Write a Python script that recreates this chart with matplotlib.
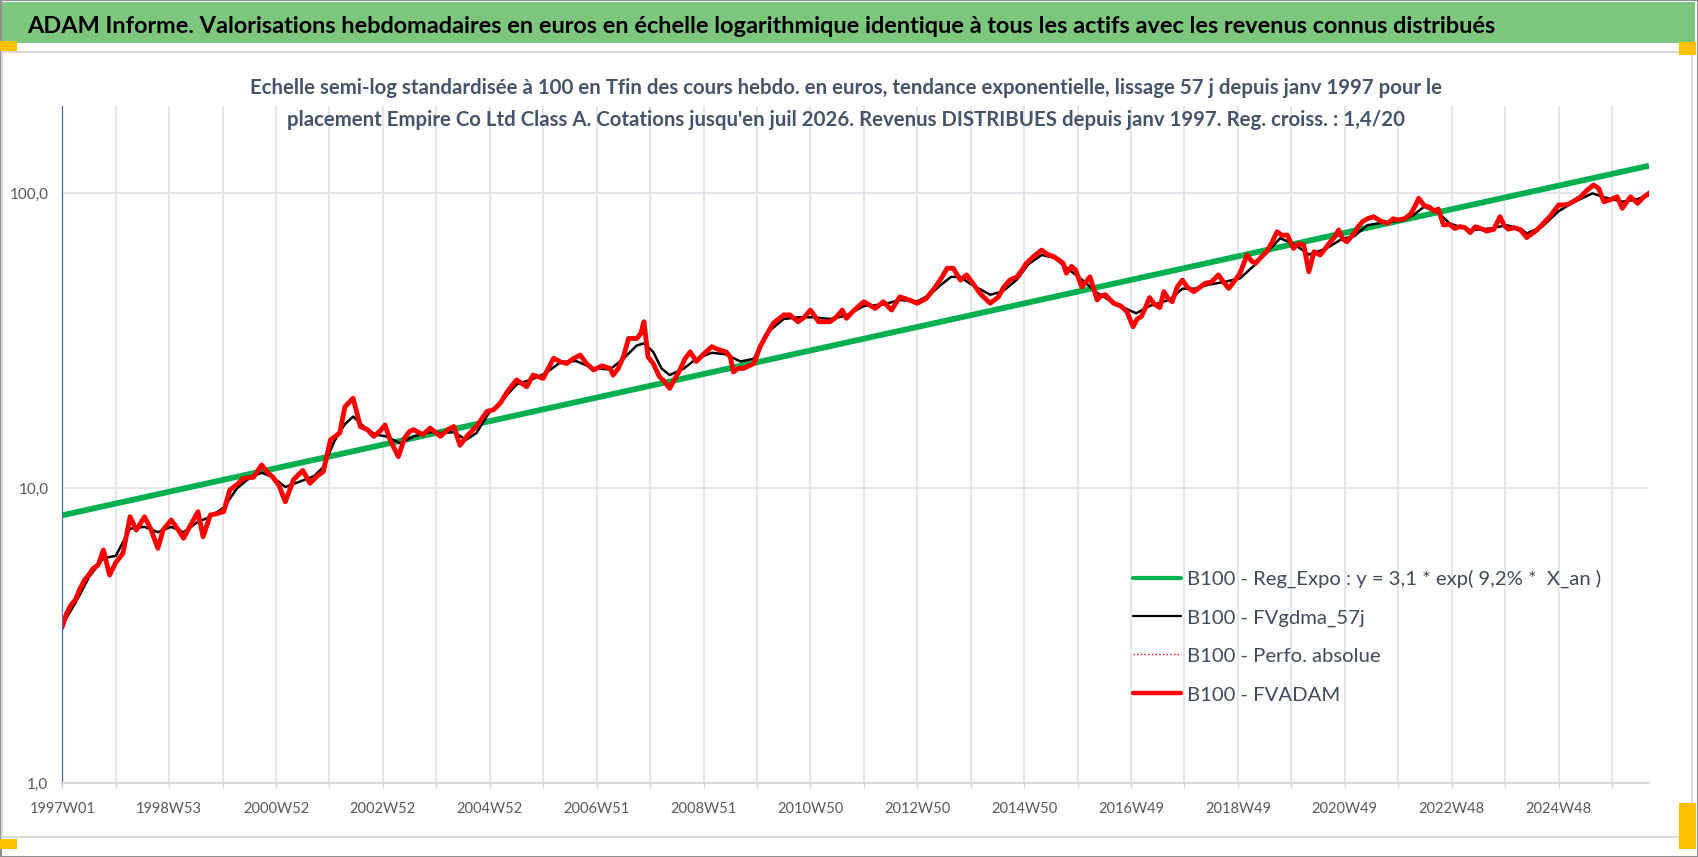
import matplotlib
matplotlib.use("Agg")
import matplotlib.pyplot as plt
from matplotlib.lines import Line2D
from matplotlib.patches import Rectangle
from matplotlib.ticker import FixedLocator, NullLocator

# ---------------- data ----------------
title = ("ADAM Informe. Valorisations hebdomadaires en euros en échelle logarithmique "
         "identique à tous les actifs avec les revenus connus distribués")
subtitle_1 = ("Echelle semi-log standardisée à 100 en Tfin des cours hebdo. en euros, tendance "
              "exponentielle, lissage 57 j depuis janv 1997 pour le")
subtitle_2 = ("placement Empire Co Ltd Class A. Cotations jusqu'en juil 2026. Revenus DISTRIBUES "
              "depuis janv 1997. Reg. croiss. : 1,4/20")

tick_labels = ["1997W01", "1998W53", "2000W52", "2002W52", "2004W52", "2006W51", "2008W51",
               "2010W50", "2012W50", "2014W50", "2016W49", "2018W49", "2020W49", "2022W48",
               "2024W48"]
tick_weeks = [0, 104, 208, 312, 416, 520, 624, 728, 832, 936, 1040, 1144, 1248, 1352, 1456]
grid_weeks = [0, 52, 104, 156, 208, 260, 312, 364, 416, 468, 520, 572, 624, 676, 728, 780,
              832, 884, 936, 988, 1040, 1092, 1144, 1196, 1248, 1300, 1352, 1404, 1456, 1508]
last_week = 1544

y_ticks = [1, 10, 100]
y_tick_labels = ["1,0", "10,0", "100,0"]

legend_labels = ["B100 - Reg_Expo : y = 3,1 * exp( 9,2% *  X_an )",
                 "B100 - FVgdma_57j",
                 "B100 - Perfo. absolue",
                 "B100 - FVADAM"]

reg_week = [0, 1544]
reg_value = [8.1, 124.0]

red_week = [0, 4, 8, 13, 17, 22, 26, 30, 35, 40, 46, 52, 59, 66, 72, 80, 86, 93, 98, 106,
            112, 118, 124, 132, 137, 144, 150, 157, 163, 170, 176, 186, 194, 200, 205, 211,
            217, 225, 234, 241, 248, 254, 261, 270, 275, 283, 290, 297, 303, 309, 314, 319,
            327, 333, 338, 342, 351, 358, 368, 375, 381, 387, 395, 403, 413, 420, 426, 434,
            442, 452, 458, 468, 478, 485, 491, 497, 504, 510, 517, 525, 533, 536, 541, 546,
            551, 559, 563, 566, 570, 575, 581, 586, 591, 596, 601, 606, 611, 617, 624, 632,
            640, 646, 650, 653, 658, 663, 673, 679, 685, 692, 702, 708, 716, 722, 728, 736,
            747, 753, 759, 763, 770, 780, 791, 799, 807, 815, 824, 832, 841, 851, 856, 861,
            867, 874, 880, 887, 893, 898, 903, 911, 916, 922, 929, 934, 938, 945, 953, 959,
            965, 971, 974, 977, 982, 986, 992, 996, 1000, 1004, 1007, 1011, 1015, 1023, 1030,
            1036, 1042, 1046, 1050, 1054, 1058, 1063, 1068, 1072, 1076, 1080, 1085, 1090,
            1095, 1101, 1107, 1112, 1118, 1125, 1130, 1135, 1140, 1146, 1153, 1157, 1161,
            1166, 1172, 1177, 1182, 1187, 1192, 1198, 1203, 1208, 1213, 1218, 1224, 1229,
            1234, 1238, 1242, 1246, 1250, 1257, 1261, 1265, 1270, 1276, 1283, 1290, 1295,
            1300, 1306, 1312, 1316, 1320, 1325, 1331, 1335, 1339, 1344, 1350, 1355, 1360,
            1365, 1370, 1375, 1380, 1386, 1393, 1399, 1403, 1407, 1413, 1419, 1425, 1430,
            1435, 1441, 1448, 1456, 1461, 1466, 1470, 1477, 1484, 1490, 1495, 1500, 1506,
            1513, 1518, 1522, 1526, 1533, 1539, 1544]
red_value = [3.4, 3.75, 4.0, 4.2, 4.55, 4.9, 5.1, 5.35, 5.5, 6.18, 5.08, 5.6, 6.02, 8.01,
             7.22, 8.0, 7.3, 6.26, 7.22, 7.81, 7.3, 6.77, 7.41, 8.33, 6.85, 8.12, 8.2, 8.33,
             9.87, 10.3, 10.8, 10.9, 12.0, 11.3, 10.9, 10.2, 9.0, 10.7, 11.5, 10.4, 11.0,
             11.4, 14.6, 15.4, 18.9, 20.2, 16.2, 15.8, 15.0, 15.6, 16.4, 14.6, 12.8, 14.8,
             15.6, 15.8, 15.2, 16.0, 15.0, 15.8, 16.2, 14.0, 15.2, 16.2, 18.2, 18.5, 19.4,
             21.5, 23.3, 22.1, 24.2, 23.6, 27.6, 26.8, 26.5, 27.5, 28.3, 26.5, 25.2, 26.0,
             25.5, 24.2, 25.5, 27.9, 32.2, 32.2, 33.5, 36.7, 27.9, 26.5, 23.9, 23.0, 21.8,
             23.5, 25.2, 27.5, 29.0, 26.9, 28.5, 30.2, 29.4, 29.0, 27.9, 24.8, 25.5, 25.5,
             26.5, 30.2, 33.0, 36.3, 38.7, 38.7, 36.7, 38.0, 40.2, 36.7, 36.7, 38.0, 40.2,
             37.7, 40.0, 42.9, 40.7, 42.9, 40.2, 44.6, 43.5, 42.4, 44.1, 48.9, 52.0, 55.7,
             55.7, 50.8, 52.9, 49.0, 45.8, 44.0, 42.4, 44.6, 48.0, 50.8, 52.1, 55.0, 57.9,
             61.0, 64.2, 62.0, 61.0, 59.0, 57.9, 53.6, 56.5, 55.0, 48.2, 50.0, 52.1, 47.0,
             43.5, 45.0, 45.3, 42.4, 41.5, 39.7, 35.3, 37.5, 38.2, 41.0, 44.3, 42.0, 41.0,
             46.4, 44.0, 42.9, 48.2, 50.8, 48.0, 46.4, 48.0, 49.5, 50.0, 52.9, 50.0, 47.6,
             50.0, 53.6, 61.8, 59.0, 57.9, 60.5, 63.4, 68.0, 74.1, 72.0, 72.2, 65.1, 67.5,
             66.8, 54.2, 63.4, 61.8, 65.0, 68.5, 71.0, 75.1, 70.0, 68.5, 73.1, 77.0, 80.1,
             82.0, 83.3, 80.5, 79.1, 82.0, 81.2, 82.0, 85.0, 90.0, 96.2, 91.0, 89.5, 87.0,
             88.5, 78.1, 78.5, 76.0, 77.1, 76.5, 73.6, 77.0, 76.1, 74.5, 75.5, 83.3, 78.0,
             75.6, 76.5, 75.1, 70.8, 73.0, 75.1, 79.0, 83.8, 91.3, 91.3, 92.0, 93.7, 97.0,
             102.6, 106.7, 104.0, 93.7, 95.0, 97.3, 89.0, 93.0, 97.3, 92.5, 97.3, 100.0]

black_week = [0, 13, 26, 40, 52, 66, 80, 93, 106, 118, 132, 144, 157, 170, 183, 194, 205,
              217, 230, 245, 254, 265, 275, 283, 295, 305, 315, 329, 342, 358, 370, 381, 393,
              403, 415, 426, 442, 458, 470, 485, 500, 517, 533, 546, 559, 566, 575, 583, 591,
              605, 617, 632, 645, 660, 673, 685, 702, 716, 730, 747, 763, 780, 799, 815, 832,
              845, 855, 865, 874, 885, 903, 915, 929, 940, 953, 965, 977, 992, 1007, 1023,
              1036, 1045, 1058, 1077, 1090, 1102, 1115, 1130, 1146, 1160, 1172, 1185, 1198,
              1213, 1230, 1245, 1257, 1270, 1290, 1305, 1315, 1325, 1339, 1350, 1370, 1390,
              1405, 1419, 1425, 1440, 1456, 1470, 1489, 1500, 1518, 1530, 1544]
black_value = [3.45, 4.1, 5.0, 5.8, 5.9, 7.3, 7.4, 7.1, 7.4, 7.1, 7.7, 8.0, 8.6, 10.0,
               10.9, 11.3, 10.9, 10.1, 10.5, 11.0, 11.8, 14.5, 16.5, 17.5, 16.0, 15.2, 15.0,
               14.2, 15.0, 15.5, 15.4, 15.5, 14.6, 15.4, 18.0, 19.5, 22.5, 23.5, 24.5, 26.8,
               27.0, 25.5, 25.3, 27.5, 30.5, 31.0, 29.0, 25.5, 24.2, 25.5, 27.5, 28.8, 28.5,
               26.9, 27.5, 33.5, 37.5, 38.0, 38.0, 37.5, 38.5, 41.5, 42.0, 43.5, 43.0, 45.5,
               49.0, 52.1, 52.0, 49.0, 45.3, 46.5, 51.0, 57.5, 61.8, 60.5, 56.0, 51.0, 46.0,
               42.5, 40.5, 39.2, 41.5, 43.5, 47.5, 47.5, 49.0, 50.0, 51.5, 57.0, 63.0, 70.4,
               67.5, 62.0, 65.0, 70.0, 71.5, 78.0, 80.0, 81.0, 84.5, 90.0, 86.0, 79.0, 75.0,
               76.0, 78.0, 76.0, 73.1, 77.0, 87.0, 93.0, 100.0, 97.0, 93.7, 95.0, 98.5]

# ---------------- figure geometry (pixels) ----------------
W, H = 1698, 857
fig = plt.figure(figsize=(W / 100, H / 100), dpi=100)
fig.patch.set_facecolor("white")
plt.rcParams["font.family"] = ["Lato", "DejaVu Sans"]


def fx(x):
    return x / W


def fy(y):
    return 1 - y / H


def rect(x0, y0, x1, y1, **kw):
    fig.add_artist(Rectangle((fx(x0), fy(y1)), fx(x1) - fx(x0), fy(y0) - fy(y1),
                             transform=fig.transFigure, **kw))


# outer frame, title bar, chart box, selection handles
rect(0.5, 0.5, W - 0.5, H - 0.5, fill=False, edgecolor="#8f8f8f", lw=1.5)
rect(2, 2, 1695, 43, facecolor="#7dc67e", edgecolor="none")
rect(2, 52, 1692, 837, fill=False, edgecolor="#d9d9d9", lw=1.5)
handle_col = "#ffc000"
rect(0, 41, 17, 51, facecolor=handle_col, edgecolor="none")
rect(1679, 42, 1696, 55, facecolor=handle_col, edgecolor="none")
rect(0, 839, 17, 849, facecolor=handle_col, edgecolor="none")
rect(1679, 803, 1696, 849, facecolor=handle_col, edgecolor="none")

renderer = fig.canvas.get_renderer()


def fit(t, target):
    w = t.get_window_extent(renderer=renderer).width
    t.set_fontsize(t.get_fontsize() * target / w)
    return t.get_fontsize()


t_title = fig.text(fx(27), fy(32.7), title, ha="left", va="baseline",
                   fontsize=20, fontweight="bold", color="black")
fit(t_title, 1470)

t_s1 = fig.text(fx(846), fy(94.5), subtitle_1, ha="center", va="baseline",
                fontsize=15, fontweight="bold", color="#44546a")
fs_sub = fit(t_s1, 1192)
fig.text(fx(846), fy(125.5), subtitle_2, ha="center", va="baseline",
         fontsize=fs_sub, fontweight="bold", color="#44546a")

# ---------------- axes ----------------
left, right, top, bottom = 62.3, 1649, 106, 783.3
ax = fig.add_axes([fx(left), fy(bottom), fx(right) - fx(left), fy(top) - fy(bottom)])
ax.set_facecolor("none")
ax.set_yscale("log")
ax.set_ylim(1, 197.7)
ax.set_xlim(0, last_week)

ax.yaxis.set_major_locator(FixedLocator(y_ticks))
ax.yaxis.set_minor_locator(NullLocator())
ax.set_yticklabels(y_tick_labels)
ax.tick_params(axis="y", which="both", length=0, pad=10, labelsize=11, labelcolor="#595959")

ax.xaxis.set_major_locator(FixedLocator(tick_weeks))
ax.xaxis.set_minor_locator(FixedLocator([w for w in grid_weeks if w not in tick_weeks]))
ax.set_xticklabels(tick_labels)
ax.tick_params(axis="x", which="both", direction="out", length=3.6, width=1.0,
               color="#d9d9d9", pad=10)
ax.tick_params(axis="x", which="major", labelsize=10.5, labelcolor="#595959")

grid_col = "#e1e5ec"
ax.grid(True, which="both", axis="x", color=grid_col, lw=1.3)
ax.grid(True, which="major", axis="y", color=grid_col, lw=1.3)
ax.set_axisbelow(True)

for s in ("top", "right"):
    ax.spines[s].set_visible(False)
ax.spines["left"].set_color("#4472c4")
ax.spines["left"].set_linewidth(0.9)
ax.spines["bottom"].set_color("#d9d9d9")
ax.spines["bottom"].set_linewidth(1.5)

green = "#00b050"
ax.plot(reg_week, reg_value, color=green, lw=4.2, solid_capstyle="butt")
ax.plot(black_week, black_value, color="black", lw=1.8)
ax.plot(red_week, red_value, color="red", lw=1, ls=":")
ax.plot(red_week, red_value, color="#ff0000", lw=3.5, solid_joinstyle="round")

# ---------------- legend (frameless, drawn at reference position) ----------------
leg_y = [577.7, 616.0, 654.3, 693.3]
leg_styles = [dict(color=green, lw=3.0, ls="-"),
              dict(color="black", lw=1.6, ls="-"),
              dict(color="red", lw=1.0, ls=":"),
              dict(color="#ff0000", lw=3.2, ls="-")]
leg_texts = []
for y, lab, st in zip(leg_y, legend_labels, leg_styles):
    fig.add_artist(Line2D([fx(1133), fx(1181)], [fy(y), fy(y)], transform=fig.transFigure,
                          solid_capstyle="round", **st))
    leg_texts.append(fig.text(fx(1187), fy(y + 7.5), lab, ha="left", va="baseline",
                              fontsize=14, color="#404a5a"))
fs_leg = fit(leg_texts[0], 417)
for t in leg_texts[1:]:
    t.set_fontsize(fs_leg)

fig.savefig("out.png", dpi=100)
